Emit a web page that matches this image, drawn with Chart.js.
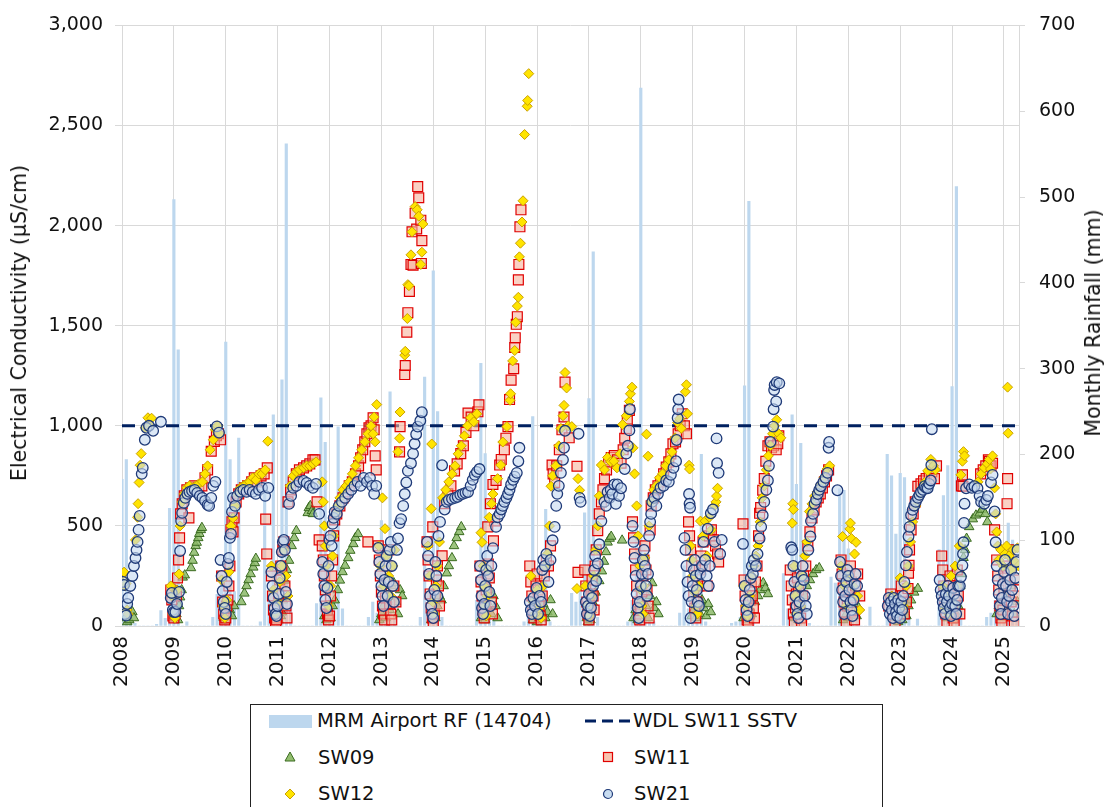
<!DOCTYPE html>
<html><head><meta charset="utf-8">
<script src="https://cdn.jsdelivr.net/npm/chart.js@4/dist/chart.umd.min.js"></script>
<style>
html,body{margin:0;padding:0;background:#fff;}
body{width:1110px;height:807px;overflow:hidden;position:relative;font-family:Tahoma,"DejaVu Sans",sans-serif;color:#111;}
#wrap{position:absolute;left:0;top:0;width:1110px;height:700px;}
.ttl{position:absolute;white-space:nowrap;font-size:20.5px;transform:translate(-50%,-50%) rotate(-90deg);}
#legend{position:absolute;left:250px;top:704px;width:633px;height:120px;border:1px solid #222;box-sizing:border-box;}
.lt{position:absolute;font-size:19.5px;line-height:22px;white-space:nowrap;}
.ls{position:absolute;}
</style></head>
<body>
<div id="wrap"><canvas id="c" width="1110" height="700"></canvas></div>
<div class="ttl" style="left:19px;top:323px;">Electrical Conductivity (µS/cm)</div>
<div class="ttl" style="left:1093px;top:323px;">Monthly Rainfall (mm)</div>
<div id="legend">
  <div class="ls" style="left:18px;top:10px;width:43px;height:13px;background:#bdd7ee;"></div>
  <div class="lt" style="left:66px;top:5px;">MRM Airport RF (14704)</div>
  <svg class="ls" style="left:334px;top:9px;" width="48" height="14"><line x1="0" y1="7" x2="48" y2="7" stroke="#002060" stroke-width="3" stroke-dasharray="11,6"/></svg>
  <div class="lt" style="left:382px;top:5px;">WDL SW11 SSTV</div>
  <svg class="ls" style="left:33px;top:46px;" width="12" height="12"><polygon points="6,1 11,10 1,10" fill="#92be6e" stroke="#3a6b20" stroke-width="1"/></svg>
  <div class="lt" style="left:67px;top:42px;">SW09</div>
  <svg class="ls" style="left:351px;top:46px;" width="12" height="12"><rect x="1.5" y="1.5" width="9" height="9" fill="#f8c4b0" stroke="#e00000" stroke-width="1.2"/></svg>
  <div class="lt" style="left:383px;top:42px;">SW11</div>
  <svg class="ls" style="left:33px;top:83px;" width="12" height="12"><polygon points="6,1 11,6 6,11 1,6" fill="#ffe400" stroke="#c9a000" stroke-width="1"/></svg>
  <div class="lt" style="left:67px;top:78px;">SW12</div>
  <svg class="ls" style="left:351px;top:83px;" width="12" height="12"><circle cx="6" cy="6" r="4.5" fill="#c8dcf0" stroke="#1f3a78" stroke-width="1.2"/></svg>
  <div class="lt" style="left:383px;top:78px;">SW21</div>
</div>
<script>
// ---- Monthly rainfall (mm), MRM Airport 14704, one array per year, Jan..Dec ----
const rainStartYear = 2008;
const rain2008 = [171,194,25,3,0,0,0,0,2,18,9,137];
const rain2009 = [497,322,0,5,0,0,0,0,0,10,37,60];
const rain2010 = [331,194,40,219,0,0,0,0,5,180,40,246];
const rain2011 = [60,287,562,30,0,0,0,0,0,26,266,214];
const rain2012 = [80,40,232,20,0,0,0,0,0,10,28,15];
const rain2013 = [123,40,273,10,0,0,0,0,0,10,290,40];
const rain2014 = [414,250,10,0,0,0,0,0,0,0,30,306];
const rain2015 = [201,15,10,0,0,0,0,0,0,5,20,244];
const rain2016 = [20,30,136,5,0,0,0,0,38,28,43,132];
const rain2017 = [265,436,10,0,0,0,0,0,0,5,30,120];
const rain2018 = [627,60,40,5,0,0,0,0,0,15,70,20];
const rain2019 = [10,15,200,5,0,0,0,0,0,3,5,10];
const rain2020 = [280,495,10,0,0,0,0,0,0,61,20,246];
const rain2021 = [165,213,40,3,0,0,0,0,57,50,160,158];
const rain2022 = [90,55,10,0,0,22,0,0,0,200,175,107];
const rain2023 = [178,173,10,0,8,0,0,0,0,89,152,187];
const rain2024 = [279,512,55,0,0,0,0,0,10,15,30,60];
const rain2025 = [40,120,100,10];

// ---- Guideline ----
const sstvValue = 1000;

// ---- Axis ranges / ticks ----
const xMin = 2008, xMax = 2025.29;
const ecTicks = [0,500,1000,1500,2000,2500,3000];
const rainTicks = [0,100,200,300,400,500,600,700];

// ---- Electrical conductivity (µS/cm) [decimal year, value] ----
const sw09 = [
[2008.06,40],[2008.1,20],[2008.14,30],[2008.2,70],[2008.23,40],
[2009.02,40],[2009.05,60],[2009.08,30],[2009.1,100],[2009.12,144],[2009.15,180],[2009.17,243],[2009.21,254],[2009.33,290],[2009.36,327],[2009.39,367],[2009.42,400],[2009.44,417],[2009.47,440],[2009.49,461],[2009.52,480],[2009.54,491],
[2009.96,40],[2010.0,30],[2010.04,60],[2010.08,80],[2010.12,50],[2010.16,100],[2010.3,120],[2010.36,163],[2010.4,200],[2010.44,230],[2010.48,260],[2010.53,293],[2010.56,315],[2010.58,337],
[2010.94,40],[2010.98,60],[2011.02,30],[2011.06,50],[2011.08,69],[2011.1,129],[2011.14,228],[2011.18,280],[2011.22,327],[2011.27,400],[2011.32,440],[2011.36,476],[2011.58,565],[2011.6,590],[2011.63,600],[2011.66,575],[2011.68,560],
[2011.9,50],[2011.94,30],[2011.98,70],[2012.02,40],[2012.06,100],[2012.1,129],[2012.16,180],[2012.2,228],[2012.25,270],[2012.3,302],[2012.36,340],[2012.4,377],[2012.46,410],[2012.5,441],[2012.55,460],
[2012.96,30],[2013.0,60],[2013.04,100],[2013.08,40],[2013.12,150],[2013.16,80],[2013.2,200],[2013.24,215],[2013.28,120],[2013.32,60],[2013.36,180],[2013.4,150],
[2013.96,30],[2014.0,60],[2014.04,40],[2014.08,100],[2014.12,150],[2014.16,129],[2014.2,200],[2014.26,264],[2014.3,300],[2014.36,340],[2014.4,400],[2014.45,440],[2014.5,470],[2014.54,495],
[2014.92,40],[2014.96,80],[2015.0,30],[2015.04,120],[2015.08,180],[2015.12,60],[2015.16,150],[2015.2,100],[2015.24,40],
[2015.92,30],[2015.96,60],[2016.0,20],[2016.04,80],[2016.08,50],[2016.12,110],[2016.16,40],[2016.2,70],[2016.26,130],[2016.3,60],
[2016.96,40],[2016.98,20],[2017.0,60],[2017.03,30],[2017.05,80],[2017.07,120],[2017.13,168],[2017.2,225],[2017.25,274],[2017.29,322],[2017.33,370],[2017.36,418],[2017.4,437],[2017.43,447],[2017.64,428],
[2017.86,40],[2017.9,80],[2017.94,30],[2017.98,120],[2018.02,60],[2018.06,180],[2018.1,100],[2018.14,40],[2018.18,150],[2018.22,215],[2018.26,90],[2018.3,120],[2018.34,60],
[2018.98,50],[2019.02,80],[2019.06,40],[2019.1,100],[2019.14,60],[2019.18,130],[2019.22,90],[2019.26,50],[2019.3,110],[2019.35,70],
[2019.98,40],[2020.02,60],[2020.06,30],[2020.1,90],[2020.14,60],[2020.2,120],[2020.26,150],[2020.3,180],[2020.36,215],[2020.4,190],[2020.45,160],
[2020.96,40],[2021.0,70],[2021.04,30],[2021.08,115],[2021.12,90],[2021.16,150],[2021.2,200],[2021.26,230],[2021.32,260],[2021.38,280],[2021.44,290],
[2021.9,30],[2021.96,60],[2022.0,40],[2022.04,100],[2022.08,140],[2022.12,80],[2022.16,50],[2022.2,90],
[2022.92,40],[2022.96,20],[2023.0,60],[2023.04,30],[2023.08,80],[2023.12,50],[2023.16,100],[2023.21,129],[2023.27,168],[2023.34,187],
[2023.9,40],[2023.96,70],[2024.02,30],[2024.08,60],[2024.12,100],[2024.16,200],[2024.19,260],[2024.22,341],[2024.25,380],[2024.28,437],[2024.33,495],[2024.4,534],[2024.46,553],[2024.53,563],[2024.58,582],[2024.64,560],[2024.68,520],
[2024.86,60],[2024.9,100],[2024.96,40],[2025.02,150],[2025.08,80],[2025.14,200],[2025.2,60],[2025.26,120]
];

const sw11 = [
[2008.94,180],[2008.96,130],[2008.98,50],[2009.0,40],[2009.02,60],[2009.05,150],[2009.07,240],[2009.09,330],[2009.11,440],[2009.13,560],[2009.16,610],[2009.2,650],[2009.25,680],[2009.29,540],[2009.32,690],[2009.4,700],[2009.48,690],[2009.54,700],[2009.6,740],[2009.65,780],[2009.72,873],[2009.78,922],[2009.82,950],[2009.86,960],[2009.9,930],
[2009.92,250],[2009.94,120],[2009.96,60],[2009.98,30],[2010.0,40],[2010.02,100],[2010.04,130],[2010.06,200],[2010.08,300],[2010.1,480],[2010.12,520],[2010.14,470],[2010.16,540],[2010.2,620],[2010.25,660],[2010.3,680],[2010.36,690],[2010.42,700],[2010.5,720],[2010.55,740],[2010.6,720],[2010.68,750],[2010.74,760],[2010.8,790],[2010.77,534],[2010.79,360],
[2010.88,250],[2010.9,150],[2010.92,80],[2010.94,40],[2010.96,20],[2010.98,30],[2011.0,90],[2011.02,160],[2011.04,230],[2011.06,300],[2011.08,280],[2011.1,380],[2011.12,420],[2011.14,200],[2011.16,100],[2011.18,40],[2011.2,620],[2011.25,680],[2011.3,720],[2011.36,760],[2011.42,780],[2011.5,790],[2011.56,800],[2011.62,810],[2011.68,830],[2011.72,830],[2011.76,620],[2011.8,430],
[2011.86,400],[2011.88,330],[2011.9,250],[2011.92,180],[2011.94,100],[2011.96,60],[2011.98,30],[2012.0,50],[2012.02,150],[2012.04,250],[2012.06,330],[2012.08,450],[2012.1,530],[2012.14,560],[2012.2,600],[2012.26,640],[2012.32,670],[2012.38,700],[2012.44,720],[2012.5,760],[2012.56,800],[2012.6,840],[2012.64,880],[2012.68,920],[2012.72,960],[2012.74,420],[2012.76,990],[2012.8,1000],[2012.84,1040],[2012.86,980],[2012.88,850],[2012.9,780],
[2012.94,400],[2012.96,330],[2012.98,250],[2013.0,170],[2013.02,100],[2013.04,60],[2013.06,30],[2013.08,140],[2013.1,220],[2013.12,300],[2013.14,380],[2013.16,110],[2013.18,60],[2013.2,30],[2013.24,200],[2013.28,120],[2013.35,870],[2013.36,996],
[2013.45,1256],[2013.46,1301],[2013.49,1468],[2013.51,1565],[2013.54,1671],[2013.57,1806],[2013.59,1969],[2013.61,1802],[2013.65,2062],[2013.68,1983],[2013.7,2195],[2013.72,2139],[2013.76,2027],[2013.77,1811],[2013.78,1925],
[2013.88,420],[2013.9,330],[2013.92,250],[2013.94,160],[2013.96,90],[2013.98,40],[2013.99,495],[2014.0,20],[2014.02,60],[2014.04,150],[2014.06,230],[2014.08,300],[2014.1,200],[2014.12,100],[2014.17,351],[2014.22,611],[2014.28,660],[2014.34,700],[2014.41,775],[2014.46,810],[2014.53,861],[2014.58,900],[2014.63,967],[2014.67,1064],[2014.73,1044],[2014.78,1000],[2014.86,1070],[2014.88,1105],
[2014.9,300],[2014.92,220],[2014.94,150],[2014.96,80],[2014.98,40],[2015.0,100],[2015.02,180],[2015.04,260],[2015.06,310],[2015.08,240],[2015.12,120],[2015.14,60],[2015.16,425],[2015.18,525],
[2015.05,495],[2015.1,611],[2015.15,707],[2015.21,727],[2015.28,804],[2015.31,832],[2015.37,880],[2015.4,938],[2015.44,996],[2015.47,1131],[2015.5,1228],[2015.55,1285],[2015.57,1391],[2015.58,1440],[2015.6,1507],[2015.62,1545],[2015.64,1729],[2015.65,1806],[2015.67,1994],[2015.69,2079],
[2015.86,300],[2015.88,220],[2015.9,150],[2015.92,80],[2015.94,40],[2015.96,120],[2015.98,200],[2016.0,260],[2016.02,180],[2016.04,100],[2016.06,50],[2016.08,30],[2016.1,150],[2016.14,250],[2016.18,330],[2016.22,300],[2016.26,400],
[2016.29,804],[2016.31,760],[2016.34,717],[2016.38,800],[2016.43,880],[2016.48,980],[2016.52,1044],[2016.54,1218],[2016.62,940],[2016.77,798],[2016.79,268],
[2016.92,280],[2016.94,200],[2016.96,120],[2016.98,60],[2017.0,30],[2017.02,90],[2017.04,160],[2017.06,230],[2017.08,150],[2017.1,80],[2017.12,300],[2017.14,380],[2017.17,476],[2017.2,560],[2017.24,620],[2017.27,680],[2017.3,736],[2017.34,780],[2017.38,820],[2017.43,842],[2017.49,851],[2017.55,830],[2017.62,813],[2017.66,880],[2017.69,938],[2017.72,986],[2017.74,1025],[2017.78,1077],
[2017.84,520],[2017.86,440],[2017.88,360],[2017.9,280],[2017.92,200],[2017.94,120],[2017.96,60],[2017.98,30],[2018.0,90],[2018.02,170],[2018.04,250],[2018.06,330],[2018.08,400],[2018.1,280],[2018.12,180],[2018.14,100],[2018.16,40],[2018.18,480],[2018.2,600],[2018.24,640],[2018.28,680],[2018.33,700],[2018.38,720],[2018.44,760],[2018.49,794],[2018.54,820],[2018.58,860],[2018.62,910],[2018.67,919],[2018.72,960],[2018.76,1000],[2018.8,1060],[2018.84,1000],[2018.88,960],
[2018.92,520],[2018.94,450],[2018.96,380],[2018.98,300],[2019.0,220],[2019.02,150],[2019.04,90],[2019.06,40],[2019.08,120],[2019.1,200],[2019.13,280],[2019.16,350],[2019.2,420],[2019.24,300],[2019.28,200],[2019.32,450],[2019.36,480],[2019.4,430],[2019.44,400],[2019.48,360],[2019.5,320],
[2019.97,510],[2019.99,230],[2020.01,150],[2020.03,80],[2020.05,30],[2020.07,10],[2020.09,60],[2020.11,130],[2020.13,200],[2020.15,150],[2020.17,90],[2020.19,40],[2020.21,220],[2020.24,300],[2020.27,450],[2020.29,563],[2020.31,592],[2020.35,678],[2020.38,736],[2020.41,823],[2020.45,900],[2020.49,920],[2020.52,890],[2020.56,900],[2020.61,880],[2020.64,910],[2020.66,950],
[2020.88,280],[2020.9,200],[2020.92,130],[2020.94,60],[2020.96,20],[2020.98,90],[2021.0,160],[2021.02,240],[2021.04,180],[2021.06,100],[2021.08,40],[2021.1,10],[2021.12,150],[2021.14,250],[2021.18,300],[2021.22,400],[2021.26,470],[2021.3,540],[2021.34,580],[2021.38,620],[2021.42,640],[2021.46,660],[2021.5,690],[2021.54,720],[2021.58,750],[2021.62,780],
[2021.86,330],[2021.88,260],[2021.9,190],[2021.92,120],[2021.94,60],[2021.96,20],[2021.98,100],[2022.0,180],[2022.02,250],[2022.04,300],[2022.06,220],[2022.08,140],[2022.1,70],[2022.12,30],[2022.14,200],[2022.18,260],[2022.22,150],
[2022.78,100],[2022.82,160],[2022.86,60],[2022.9,20],[2022.94,120],[2022.98,80],[2023.02,200],
[2023.04,150],[2023.08,60],[2023.12,120],[2023.15,187],[2023.16,264],[2023.17,303],[2023.18,380],[2023.21,480],[2023.25,560],[2023.29,620],[2023.34,698],[2023.4,710],[2023.45,725],[2023.5,736],[2023.56,750],[2023.61,770],[2023.66,736],[2023.7,800],
[2023.8,350],[2023.82,280],[2023.84,200],[2023.86,130],[2023.88,60],[2023.9,20],[2023.92,90],[2023.94,170],[2023.96,250],[2023.98,180],[2024.0,100],[2024.02,40],[2024.04,10],[2024.06,130],[2024.08,200],[2024.1,280],[2024.12,150],[2024.15,60],[2024.18,700],[2024.2,755],[2024.21,698],[2024.55,760],[2024.6,780],[2024.65,800],[2024.7,830],[2024.72,823],[2024.75,800],[2024.78,813],
[2024.82,480],[2024.86,330],[2024.88,250],[2024.9,180],[2024.92,100],[2024.94,40],[2024.96,10],[2024.98,80],[2025.0,160],[2025.02,240],[2025.04,300],[2025.06,611],[2025.07,736],[2025.09,380],[2025.12,200],[2025.14,120],[2025.16,50],[2025.2,20],[2025.22,150],[2025.25,230]
];

const sw12 = [
[2008.02,260],[2008.04,269],[2008.06,200],[2008.08,212],[2008.1,80],[2008.12,60],[2008.26,430],[2008.3,543],[2008.31,611],[2008.33,717],[2008.35,803],[2008.37,861],[2008.45,990],[2008.5,1040],[2008.53,1000],[2008.57,1038],
[2008.94,200],[2008.96,150],[2008.98,60],[2009.02,40],[2009.06,180],[2009.1,260],[2009.12,500],[2009.16,620],[2009.2,660],[2009.25,690],[2009.3,700],[2009.36,690],[2009.42,700],[2009.48,710],[2009.55,720],[2009.6,760],[2009.65,800],[2009.7,880],[2009.76,930],[2009.8,980],[2009.84,1000],[2009.88,960],
[2009.92,230],[2009.95,100],[2009.98,40],[2010.02,130],[2010.06,270],[2010.1,500],[2010.14,540],[2010.18,600],[2010.22,660],[2010.28,690],[2010.34,700],[2010.4,710],[2010.46,720],[2010.52,740],[2010.58,730],[2010.64,760],[2010.7,760],[2010.76,780],[2010.81,923],
[2010.88,300],[2010.92,180],[2010.96,60],[2011.0,120],[2011.04,220],[2011.08,300],[2011.12,380],[2011.16,250],[2011.2,150],[2011.24,700],[2011.3,750],[2011.36,770],[2011.42,780],[2011.5,790],[2011.56,800],[2011.62,800],[2011.68,810],[2011.74,820],
[2011.86,720],[2011.88,620],[2011.9,500],[2011.92,400],[2011.94,300],[2011.96,200],[2011.98,100],[2012.02,200],[2012.06,350],[2012.08,450],[2012.12,560],[2012.16,600],[2012.2,640],[2012.26,680],[2012.32,700],[2012.38,720],[2012.44,760],[2012.5,800],[2012.56,840],[2012.62,880],[2012.68,920],[2012.74,960],[2012.8,1000],[2012.84,960],[2012.86,1044],[2012.88,920],[2012.91,1106],
[2012.95,400],[2012.98,300],[2013.02,640],[2013.04,200],[2013.07,486],[2013.1,350],[2013.14,250],[2013.18,150],[2013.22,300],[2013.26,380],[2013.32,871],[2013.35,938],[2013.36,1069],
[2013.45,1353],[2013.46,1372],[2013.5,1536],[2013.51,1705],[2013.53,1700],[2013.57,1854],[2013.59,1969],[2013.65,2095],[2013.69,2079],[2013.72,2047],[2013.76,1806],[2013.78,1867],[2013.8,2008],
[2013.9,400],[2013.93,250],[2013.96,586],[2013.97,909],[2013.99,120],[2014.02,60],[2014.05,200],[2014.08,300],[2014.12,420],[2014.18,640],[2014.24,680],[2014.3,720],[2014.36,760],[2014.42,800],[2014.48,860],[2014.54,900],[2014.6,950],[2014.66,1000],[2014.72,1040],[2014.78,1020],[2014.84,1060],
[2014.92,466],[2014.94,418],[2014.96,300],[2014.98,200],[2015.0,100],[2015.02,50],[2015.04,150],[2015.06,280],[2015.08,543],[2015.12,611],[2015.15,659],[2015.24,736],[2015.3,804],[2015.34,919],[2015.42,996],[2015.48,1127],[2015.49,1160],[2015.53,1324],[2015.57,1376],[2015.59,1517],[2015.62,1598],[2015.64,1642],[2015.66,1844],[2015.68,1912],[2015.71,2018],[2015.73,2124],[2015.76,2455],[2015.81,2596],[2015.82,2625],[2015.84,2759],
[2015.88,250],[2015.92,120],[2015.96,60],[2016.0,180],[2016.04,90],[2016.08,40],[2016.12,200],[2016.16,300],[2016.2,360],[2016.24,500],[2016.27,698],[2016.3,750],[2016.36,800],[2016.42,900],[2016.46,987],[2016.5,1050],[2016.52,1102],[2016.54,1266],[2016.57,1189],[2016.6,1000],[2016.67,996],[2016.77,187],[2016.79,736],[2016.82,678],
[2016.93,200],[2016.97,100],[2017.01,50],[2017.05,150],[2017.09,250],[2017.13,380],[2017.17,500],[2017.2,650],[2017.24,804],[2017.3,780],[2017.36,842],[2017.42,820],[2017.48,823],[2017.54,790],[2017.6,860],[2017.65,1006],[2017.72,1050],[2017.78,1122],[2017.8,1160],[2017.83,1193],
[2017.85,890],[2017.88,760],[2017.92,600],[2017.95,450],[2017.98,300],[2018.0,180],[2018.02,100],[2018.04,60],[2018.06,200],[2018.08,340],[2018.11,958],[2018.14,848],[2018.16,500],[2018.2,620],[2018.25,680],[2018.3,700],[2018.36,740],[2018.42,760],[2018.48,800],[2018.54,830],[2018.6,870],[2018.66,940],[2018.71,1016],[2018.75,1035],[2018.78,987],[2018.86,1170],[2018.88,1205],[2018.9,1060],
[2018.93,803],[2018.94,784],[2018.96,400],[2018.98,330],[2019.0,250],[2019.03,170],[2019.06,100],[2019.09,60],[2019.12,200],[2019.15,524],[2019.2,450],[2019.24,524],[2019.28,350],[2019.32,543],[2019.36,480],[2019.42,601],[2019.45,620],[2019.46,649],[2019.48,688],
[2019.98,200],[2020.02,100],[2020.06,50],[2020.1,150],[2020.14,250],[2020.18,300],[2020.22,350],[2020.26,400],[2020.3,520],[2020.34,640],[2020.38,700],[2020.42,780],[2020.46,850],[2020.5,900],[2020.54,960],[2020.58,1000],[2020.62,1030],[2020.66,960],[2020.7,940],
[2020.92,514],[2020.93,611],[2020.94,582],[2020.96,300],[2020.98,150],[2021.0,60],[2021.04,200],[2021.08,100],[2021.12,250],[2021.16,350],[2021.2,420],[2021.25,572],[2021.3,610],[2021.35,649],[2021.4,670],[2021.47,707],[2021.53,740],[2021.59,784],[2021.64,800],
[2021.86,300],[2021.89,447],[2021.92,200],[2021.96,100],[2022.0,250],[2022.03,485],[2022.04,514],[2022.06,437],[2022.09,200],[2022.12,360],[2022.15,418],[2022.18,150],[2022.22,80],
[2022.84,150],[2022.9,60],[2022.96,100],[2023.0,240],
[2023.06,100],[2023.12,200],[2023.16,300],[2023.2,420],[2023.24,520],[2023.3,600],[2023.36,650],[2023.42,690],[2023.47,717],[2023.53,775],[2023.59,832],[2023.64,800],[2023.68,780],
[2023.82,200],[2023.86,90],[2023.9,150],[2023.94,60],[2023.98,250],[2024.02,120],[2024.06,300],[2024.1,200],[2024.14,400],[2024.17,755],[2024.2,823],[2024.22,871],[2024.24,850],[2024.5,720],[2024.56,760],[2024.62,790],[2024.68,810],[2024.72,832],[2024.74,784],[2024.78,850],
[2024.82,690],[2024.84,560],[2024.86,470],[2024.88,400],[2024.9,330],[2024.94,380],[2024.98,300],[2025.02,360],[2025.05,400],[2025.07,1193],[2025.08,963],[2025.1,350],[2025.14,280],[2025.18,380],[2025.22,320],[2025.26,390],[2025.28,300]
];

const sw21 = [
[2008.02,220],[2008.04,205],[2008.06,60],[2008.08,52],[2008.1,110],[2008.12,140],[2008.16,200],[2008.2,250],[2008.23,300],[2008.26,340],[2008.28,380],[2008.3,420],[2008.32,480],[2008.34,550],[2008.38,760],[2008.4,790],[2008.44,930],[2008.47,990],[2008.52,1000],[2008.6,975],[2008.75,1020],
[2008.94,140],[2008.96,165],[2008.98,80],[2009.0,70],[2009.03,70],[2009.06,110],[2009.1,170],[2009.12,375],[2009.14,525],[2009.16,565],[2009.19,615],[2009.22,640],[2009.26,660],[2009.3,670],[2009.35,675],[2009.4,680],[2009.45,665],[2009.5,650],[2009.55,640],[2009.6,625],[2009.65,605],[2009.68,600],[2009.72,640],[2009.76,700],[2009.8,720],[2009.83,997],[2009.87,966],
[2009.9,330],[2009.92,250],[2009.94,175],[2009.96,120],[2009.98,90],[2010.0,60],[2010.02,220],[2010.04,310],[2010.06,340],[2010.08,440],[2010.1,460],[2010.12,570],[2010.14,640],[2010.18,600],[2010.22,650],[2010.28,670],[2010.34,680],[2010.4,670],[2010.46,680],[2010.52,670],[2010.58,660],[2010.64,680],[2010.7,690],[2010.76,650],[2010.82,690],
[2010.88,270],[2010.9,200],[2010.92,140],[2010.94,90],[2010.96,60],[2010.98,50],[2011.0,100],[2011.02,160],[2011.04,240],[2011.06,300],[2011.08,370],[2011.1,420],[2011.12,430],[2011.14,380],[2011.16,170],[2011.18,110],[2011.22,610],[2011.26,650],[2011.3,690],[2011.36,700],[2011.42,720],[2011.5,725],[2011.56,715],[2011.62,700],[2011.68,690],[2011.74,710],[2011.8,560],
[2011.86,320],[2011.88,260],[2011.9,200],[2011.92,130],[2011.94,90],[2011.96,190],[2011.98,300],[2012.0,430],[2012.02,450],[2012.04,400],[2012.06,510],[2012.08,540],[2012.1,570],[2012.14,560],[2012.18,600],[2012.24,620],[2012.3,640],[2012.36,660],[2012.42,680],[2012.48,700],[2012.54,720],[2012.6,700],[2012.66,740],[2012.72,720],[2012.78,740],[2012.82,700],[2012.86,660],[2012.9,700],
[2012.94,390],[2012.96,320],[2012.98,260],[2013.0,200],[2013.02,150],[2013.04,100],[2013.06,230],[2013.08,300],[2013.1,350],[2013.12,150],[2013.14,220],[2013.16,380],[2013.18,420],[2013.2,300],[2013.22,200],[2013.24,120],[2013.3,380],[2013.32,437],[2013.35,514],[2013.38,534],[2013.42,600],[2013.45,659],[2013.48,717],[2013.51,775],[2013.57,813],[2013.61,861],[2013.64,910],[2013.67,958],[2013.7,996],[2013.75,1025],[2013.78,1068],
[2013.88,420],[2013.9,350],[2013.92,260],[2013.94,150],[2013.96,100],[2013.98,60],[2014.0,40],[2014.02,180],[2014.04,320],[2014.06,250],[2014.08,150],[2014.1,450],[2014.13,520],[2014.17,803],[2014.22,582],[2014.26,620],[2014.3,630],[2014.36,635],[2014.42,640],[2014.47,645],[2014.52,655],[2014.57,660],[2014.62,665],[2014.67,669],[2014.72,700],[2014.76,730],[2014.8,755],[2014.84,770],[2014.89,784],
[2014.9,300],[2014.92,230],[2014.93,150],[2014.94,90],[2014.96,60],[2014.98,110],[2015.0,200],[2015.02,280],[2015.04,350],[2015.06,250],[2015.08,170],[2015.1,100],[2015.12,300],[2015.15,389],[2015.21,495],[2015.24,543],[2015.28,560],[2015.31,582],[2015.34,600],[2015.37,620],[2015.41,640],[2015.44,659],[2015.47,680],[2015.5,707],[2015.54,730],[2015.57,746],[2015.61,765],[2015.64,823],[2015.66,890],
[2015.86,120],[2015.88,80],[2015.9,60],[2015.93,140],[2015.96,100],[2015.99,190],[2016.02,60],[2016.05,150],[2016.08,120],[2016.1,280],[2016.12,330],[2016.15,300],[2016.18,360],[2016.22,220],[2016.26,330],[2016.3,428],[2016.34,495],[2016.37,600],[2016.39,660],[2016.42,700],[2016.46,765],[2016.5,830],[2016.52,890],[2016.54,975],[2016.8,960],[2016.82,640],[2016.84,620],
[2016.94,120],[2016.96,60],[2016.98,100],[2017.0,160],[2017.02,50],[2017.04,91],[2017.06,140],[2017.08,200],[2017.1,280],[2017.12,350],[2017.14,225],[2017.17,312],[2017.2,408],[2017.24,524],[2017.3,620],[2017.33,600],[2017.36,669],[2017.4,640],[2017.42,680],[2017.45,660],[2017.49,707],[2017.52,610],[2017.55,707],[2017.58,650],[2017.62,688],[2017.69,784],[2017.72,861],[2017.75,900],[2017.78,977],[2017.79,1083],
[2017.84,500],[2017.86,420],[2017.88,340],[2017.9,250],[2017.92,160],[2017.94,90],[2017.96,40],[2017.98,120],[2018.0,200],[2018.02,260],[2018.04,330],[2018.06,380],[2018.08,300],[2018.1,200],[2018.12,150],[2018.14,260],[2018.16,450],[2018.18,520],[2018.2,560],[2018.22,620],[2018.26,640],[2018.3,600],[2018.33,659],[2018.38,690],[2018.44,700],[2018.49,727],[2018.54,720],[2018.58,755],[2018.63,790],[2018.68,823],[2018.69,929],[2018.71,1039],[2018.72,1083],[2018.73,1131],
[2018.84,440],[2018.86,380],[2018.88,300],[2018.9,220],[2018.92,150],[2018.93,659],[2018.94,611],[2018.95,591],[2018.96,40],[2018.98,120],[2019.0,200],[2019.02,280],[2019.04,330],[2019.06,250],[2019.08,180],[2019.1,120],[2019.12,100],[2019.15,260],[2019.18,300],[2019.21,420],[2019.24,330],[2019.27,250],[2019.29,486],[2019.31,200],[2019.33,300],[2019.35,563],[2019.39,582],[2019.42,420],[2019.46,937],[2019.47,813],[2019.5,765],[2019.53,360],[2019.56,430],
[2019.97,410],[2020.0,200],[2020.02,130],[2020.04,80],[2020.06,50],[2020.08,120],[2020.1,180],[2020.12,240],[2020.14,300],[2020.16,260],[2020.18,330],[2020.22,300],[2020.25,360],[2020.29,437],[2020.32,495],[2020.35,553],[2020.38,620],[2020.42,680],[2020.45,727],[2020.47,800],[2020.5,919],[2020.55,996],[2020.56,1083],[2020.57,1179],[2020.58,1204],[2020.61,1122],[2020.62,1218],[2020.67,1212],
[2020.9,393],[2020.92,380],[2020.94,300],[2020.96,220],[2020.98,150],[2021.0,100],[2021.02,60],[2021.04,40],[2021.06,120],[2021.08,200],[2021.1,250],[2021.12,300],[2021.14,230],[2021.16,150],[2021.18,100],[2021.2,60],[2021.23,380],[2021.27,447],[2021.28,524],[2021.32,560],[2021.35,611],[2021.38,630],[2021.41,659],[2021.44,680],[2021.47,698],[2021.52,720],[2021.56,740],[2021.6,765],[2021.62,890],[2021.63,919],[2021.79,678],
[2021.84,320],[2021.86,250],[2021.88,180],[2021.9,120],[2021.92,60],[2021.94,150],[2021.96,220],[2021.98,280],[2022.0,250],[2022.02,180],[2022.04,120],[2022.06,80],[2022.08,50],[2022.1,130],[2022.12,210],[2022.14,260],[2022.17,200],
[2022.76,100],[2022.78,140],[2022.8,60],[2022.82,120],[2022.84,80],[2022.86,40],[2022.88,140],[2022.9,110],[2022.92,70],[2022.94,50],[2022.96,130],[2022.98,90],[2023.0,40],[2023.02,120],[2023.04,80],
[2023.06,150],[2023.08,220],[2023.11,303],[2023.13,370],[2023.16,447],[2023.18,495],[2023.21,553],[2023.24,580],[2023.27,601],[2023.3,620],[2023.34,640],[2023.37,655],[2023.4,669],[2023.44,680],[2023.47,698],[2023.5,690],[2023.53,688],[2023.56,710],[2023.59,727],[2023.6,804],[2023.61,983],
[2023.76,230],[2023.78,180],[2023.8,150],[2023.82,120],[2023.84,90],[2023.86,60],[2023.88,160],[2023.9,120],[2023.92,200],[2023.94,150],[2023.96,90],[2023.98,50],[2024.0,110],[2024.02,190],[2024.04,160],[2024.06,100],[2024.08,60],[2024.1,130],[2024.12,200],[2024.15,200],[2024.17,245],[2024.2,303],[2024.21,360],[2024.22,418],[2024.23,515],[2024.24,611],[2024.27,688],[2024.33,707],[2024.38,690],[2024.43,698],[2024.49,688],[2024.53,650],[2024.56,620],[2024.62,611],[2024.66,630],[2024.69,649],[2024.75,717],[2024.78,755],
[2024.82,572],[2024.84,418],[2024.86,300],[2024.88,230],[2024.9,160],[2024.92,100],[2024.94,60],[2024.96,140],[2024.98,210],[2025.0,270],[2025.02,330],[2025.04,200],[2025.06,120],[2025.08,60],[2025.1,150],[2025.12,230],[2025.14,280],[2025.16,180],[2025.18,100],[2025.2,50],[2025.22,240],[2025.24,320],[2025.26,380]
];

// ---- build chart data from the arrays ----
const rainYears = [rain2008,rain2009,rain2010,rain2011,rain2012,rain2013,rain2014,rain2015,rain2016,rain2017,rain2018,rain2019,rain2020,rain2021,rain2022,rain2023,rain2024,rain2025];
const rainPoints = [];
rainYears.forEach((arr, yi) => arr.forEach((v, m) => rainPoints.push({x: rainStartYear + yi + m / 12, y: v})));
const toXY = a => a.map(p => ({x: p[0], y: p[1]}));

const FONT = 'Tahoma, "DejaVu Sans", sans-serif';
Chart.defaults.font.family = FONT;
Chart.defaults.font.size = 19;
Chart.defaults.color = '#111';

new Chart(document.getElementById('c'), {
  type: 'scatter',
  data: {
    datasets: [
      {type:'bar', label:'MRM Airport RF (14704)', data: rainPoints, yAxisID:'y2', backgroundColor:'#bdd7ee', borderWidth:0, barThickness:2.5, order:10},
      {type:'line', label:'WDL SW11 SSTV', data:[{x:xMin,y:sstvValue},{x:xMax,y:sstvValue}], yAxisID:'y', borderColor:'#002060', borderWidth:3, borderDash:[13,9], pointRadius:0, fill:false, order:6},
      {label:'SW09', data: toXY(sw09), yAxisID:'y', pointStyle:'triangle', pointRadius:5.5, backgroundColor:'rgba(140,186,104,0.85)', borderColor:'#3a6b20', borderWidth:1, order:4},
      {label:'SW11', data: toXY(sw11), yAxisID:'y', pointStyle:'rect', pointRadius:7, backgroundColor:'rgba(247,178,156,0.6)', borderColor:'#e00000', borderWidth:1.2, order:3},
      {label:'SW12', data: toXY(sw12), yAxisID:'y', pointStyle:'rectRot', pointRadius:5, backgroundColor:'#ffe400', borderColor:'#c9a000', borderWidth:1, order:2},
      {label:'SW21', data: toXY(sw21), yAxisID:'y', pointStyle:'circle', pointRadius:5.3, backgroundColor:'rgba(196,216,240,0.6)', borderColor:'#1f3a78', borderWidth:1.3, order:1}
    ]
  },
  options: {
    responsive:false, animation:false, events:[],
    layout:{padding:{top:21,right:0,bottom:0,left:0}},
    plugins:{legend:{display:false}, tooltip:{enabled:false}},
    scales:{
      x:{type:'linear', min:xMin, max:xMax, offset:false,
         afterFit: s => { s.height = 74; },
         grid:{color:'#d9d9d9', lineWidth:1, offset:false, drawTicks:false},
         border:{display:false},
         ticks:{stepSize:1, autoSkip:false, includeBounds:false, minRotation:90, maxRotation:90, padding:10, color:'#111', font:{size:20},
                callback: v => Number.isInteger(v) ? String(v) : ''}},
      y:{type:'linear', position:'left', min:0, max:3000,
         afterFit: s => { s.width = 122; },
         afterBuildTicks: s => { s.ticks = ecTicks.map(v => ({value:v})); },
         grid:{color:'#d9d9d9', lineWidth:1, tickLength:7},
         border:{display:false},
         ticks:{padding:12, color:'#111', callback: v => v.toLocaleString('en-US')}},
      y2:{type:'linear', position:'right', min:0, max:700,
         afterFit: s => { s.width = 91; },
         afterBuildTicks: s => { s.ticks = rainTicks.map(v => ({value:v})); },
         grid:{drawOnChartArea:false, color:'#d9d9d9', tickLength:6},
         border:{display:true, color:'#d9d9d9'},
         ticks:{padding:14, color:'#111'}}
    }
  }
});
</script>
</body></html>
